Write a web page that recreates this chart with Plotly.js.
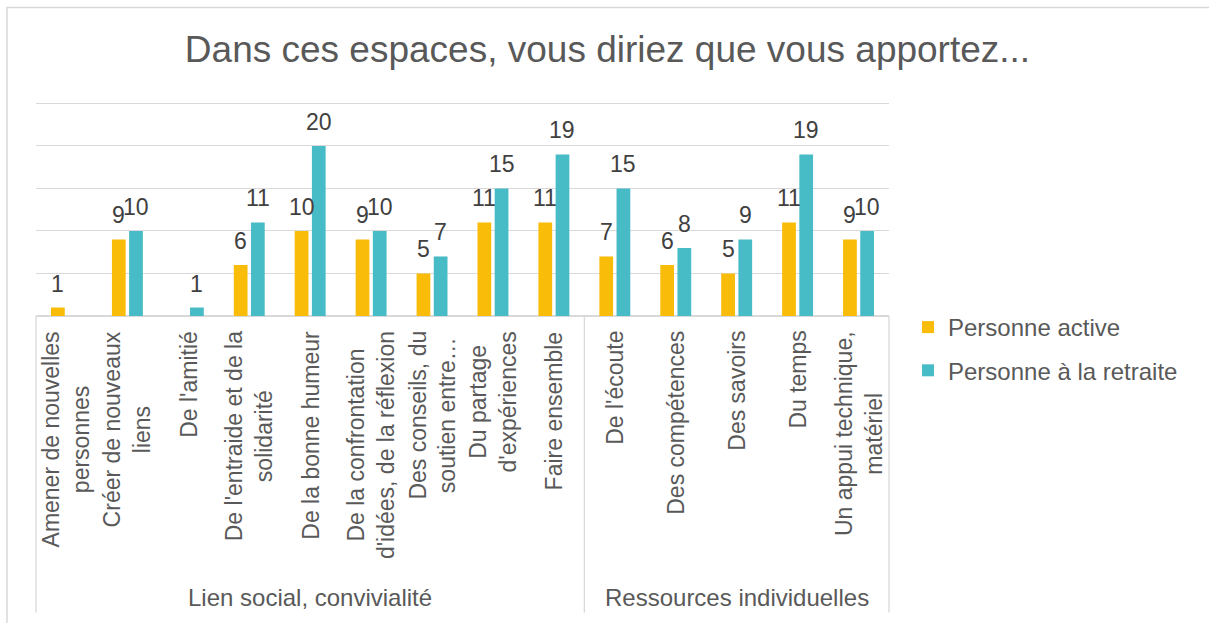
<!DOCTYPE html>
<html>
<head>
<meta charset="utf-8">
<script src="https://cdn.plot.ly/plotly-3.0.1.min.js"></script>
<style>
  html, body { margin: 0; padding: 0; background: #fff; }
  #chart { width: 1209px; height: 623px; }
</style>
</head>
<body>
<div id="chart"></div>
<script>
// ---- data ----
const titleText = "Dans ces espaces, vous diriez que vous apportez...";
const categories = [
  "Amener de nouvelles personnes", "Créer de nouveaux liens", "De l'amitié",
  "De l'entraide et de la solidarité", "De la bonne humeur",
  "De la confrontation d'idées, de la réflexion", "Des conseils, du soutien entre…",
  "Du partage d'expériences", "Faire ensemble",
  "De l'écoute", "Des compétences", "Des savoirs", "Du temps",
  "Un appui technique, matériel"
];
const tickLabels = [
  "Amener de nouvelles<br>personnes", "Créer de nouveaux<br>liens", "De l'amitié",
  "De l'entraide et de la<br>solidarité", "De la bonne humeur",
  "De la confrontation<br>d'idées, de la réflexion", "Des conseils, du<br>soutien entre…",
  "Du partage<br>d'expériences", "Faire ensemble",
  "De l'écoute", "Des compétences", "Des savoirs", "Du temps",
  "Un appui technique,<br>matériel"
];
const groupNames = ["Lien social, convivialité", "Ressources individuelles"];
const groupSizes = [9, 5];
const seriesNames = ["Personne active", "Personne à la retraite"];
const activeValues   = [1, 9, null, 6, 10, 9, 5, 11, 11, 7, 6, 5, 11, 9];
const retraiteValues = [null, 10, 1, 11, 20, 10, 7, 15, 19, 15, 8, 9, 19, 10];
const yMax = 25, yStep = 5;

// ---- style ----
const W = 1209, H = 623;
const AXIS_PX = 316, TOPGRID_PX = 103, PAD = 0.4;
const pxPerUnit = (AXIS_PX - TOPGRID_PX) / yMax;
const M = {l: 36, r: 320, t: AXIS_PX - (yMax + PAD) * pxPerUnit, b: H - AXIS_PX};
const plotW = W - M.l - M.r, plotH = H - M.t - M.b;
const BARGAP = 0.436, BARGROUPGAP = 0.2;
const colors = ["#F9BC08", "#48BCC6"];
const FONT = "Liberation Sans, Arial, sans-serif";
const n = categories.length;
const catW = plotW / n;
const slot = catW * (1 - BARGAP) / 2;

const px2paperX = p => (p - M.l) / plotW;
const px2paperY = p => (H - M.b - p) / plotH;

const traces = [activeValues, retraiteValues].map((vals, i) => ({
  type: "bar",
  x: categories,
  y: vals,
  name: seriesNames[i],
  legendgroup: "g" + i,
  marker: {color: colors[i]},
  hoverinfo: "x+y+name"
}));

const annotations = [];
// data labels
[activeValues, retraiteValues].forEach((vals, s) => {
  vals.forEach((v, i) => {
    if (v === null) return;
    annotations.push({
      xref: "x", yref: "y", x: i, y: v,
      text: String(v), showarrow: false,
      xanchor: "center", yanchor: "bottom",
      xshift: (s === 0 ? -1 : 1) * slot / 2, yshift: 10,
      borderpad: 0,
      font: {family: FONT, size: 23, color: "#404040"}
    });
  });
});
// category labels (rotated)
tickLabels.forEach((t, i) => {
  annotations.push({
    xref: "x", yref: "paper", x: i, y: 0,
    text: t, showarrow: false, textangle: -90,
    xanchor: "center", yanchor: "top", yshift: -14,
    align: "center", borderpad: 0,
    font: {family: FONT, size: 23, color: "#595959"}
  });
});
// group labels + separators
const shapes = [];
let start = 0;
shapes.push({type: "line", xref: "paper", yref: "paper", x0: 0, x1: 0, y0: 0, y1: px2paperY(613),
  line: {color: "#D9D9D9", width: 1.3}});
groupNames.forEach((g, k) => {
  const end = start + groupSizes[k];
  annotations.push({
    xref: "x", yref: "paper", x: (start + end - 1) / 2, y: px2paperY(598),
    text: g, showarrow: false, xanchor: "center", yanchor: "middle",
    font: {family: FONT, size: 24, color: "#595959"}
  });
  shapes.push({type: "line", xref: "paper", yref: "paper", x0: end / n, x1: end / n,
    y0: 0, y1: px2paperY(613), line: {color: "#D9D9D9", width: 1.3}});
  start = end;
});
// outer frame
shapes.push({type: "path", xref: "paper", yref: "paper",
  path: `M ${px2paperX(7)} ${px2paperY(640)} L ${px2paperX(7)} ${px2paperY(7)} L ${px2paperX(1230)} ${px2paperY(7)}`,
  line: {color: "#D9D9D9", width: 1.5}});

const layout = {
  width: W, height: H,
  margin: M,
  paper_bgcolor: "#fff", plot_bgcolor: "#fff",
  font: {family: FONT, color: "#595959"},
  title: {
    text: titleText,
    font: {family: FONT, size: 37, color: "#595959"},
    xref: "container", yref: "container",
    x: 607.5 / W, xanchor: "center",
    y: 1 - 49 / H, yanchor: "middle"
  },
  barmode: "group",
  bargap: BARGAP,
  bargroupgap: BARGROUPGAP,
  xaxis: {
    type: "category", showticklabels: false, ticks: "",
    showgrid: false, zeroline: false, showline: false,
    range: [-0.5, n - 0.5], fixedrange: true
  },
  yaxis: {
    range: [0, yMax + PAD], dtick: yStep, tick0: 0,
    showticklabels: false, ticks: "",
    showgrid: true, gridcolor: "#D9D9D9", gridwidth: 1,
    zeroline: true, zerolinecolor: "#D9D9D9", zerolinewidth: 1.3,
    showline: false, fixedrange: true
  },
  legend: {
    xref: "container", yref: "container",
    x: 908 / W, xanchor: "left",
    y: 1 - 305 / H, yanchor: "top",
    traceorder: "grouped", tracegroupgap: 9,
    font: {family: FONT, size: 24, color: "#595959"},
    bgcolor: "rgba(0,0,0,0)"
  },
  showlegend: true,
  annotations: annotations,
  shapes: shapes
};

Plotly.newPlot("chart", traces, layout, {displayModeBar: false, staticPlot: true});
</script>
</body>
</html>
